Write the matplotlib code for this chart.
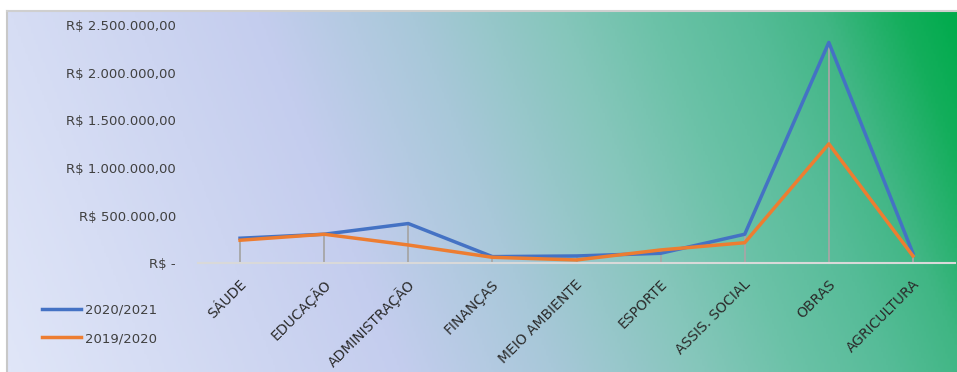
import numpy as np
import matplotlib
matplotlib.use("Agg")
import matplotlib.pyplot as plt
from matplotlib.colors import LinearSegmentedColormap

categorias = ["SÁUDE", "EDUCAÇÃO", "ADMINISTRAÇÃO", "FINANÇAS", "MEIO AMBIENTE",
              "ESPORTE", "ASSIS. SOCIAL", "OBRAS", "AGRICULTURA"]
valores_2020_2021 = [263000, 305000, 417000, 70000, 77000, 105000, 305000, 2317000, 105000]
valores_2019_2020 = [242000, 305000, 192000, 63000, 35000, 140000, 216000, 1253000, 77000]
rotulos_y = ["R$ -", "R$ 500.000,00", "R$ 1.000.000,00", "R$ 1.500.000,00",
             "R$ 2.000.000,00", "R$ 2.500.000,00"]

W, H = 957, 372
fig = plt.figure(figsize=(W / 100, H / 100), dpi=100)
fig.patch.set_facecolor("white")

# fundo em degrade (lavanda -> verde)
bg = fig.add_axes([7 / W, 0, (W - 7) / W, (H - 11) / H], zorder=0)
nx, ny = 400, 160
u = np.linspace(0, 1, nx)[None, :]
v = np.linspace(1, 0, ny)[:, None]
a = 0.15
t = (u + a * v) / (1 + a)
cmap = LinearSegmentedColormap.from_list("fundo", [
    (0.0, "#e0e6f8"), (0.13, "#d6ddf4"), (0.36, "#c4cdee"), (0.5, "#a8c8d9"),
    (0.64, "#84c6ba"), (0.72, "#6cc2a8"), (0.81, "#56bc98"), (0.88, "#40b684"),
    (0.95, "#14ae5c"), (1.0, "#00ab4c")])
bg.imshow(t, cmap=cmap, aspect="auto", extent=[0, 1, 0, 1], vmin=0, vmax=1)
bg.set_xlim(0, 1)
bg.set_ylim(0, 1)
bg.set_xticks([])
bg.set_yticks([])
for lado in ["right", "bottom"]:
    bg.spines[lado].set_visible(False)
bg.spines["top"].set_color("#cfcfcf")
bg.spines["top"].set_linewidth(1.5)
bg.spines["left"].set_color("#c8c8c8")
bg.spines["left"].set_linewidth(1.5)

ax = fig.add_axes([198 / W, 1 - 263.3 / H, (955 - 198) / W, (263.3 - 25) / H], zorder=1)
ax.patch.set_alpha(0)
x = np.arange(len(categorias))
topo = np.maximum(valores_2020_2021, valores_2019_2020)
ax.vlines(x, 0, topo, color="#a6a6a6", lw=1.3, zorder=1)
ax.plot(x, valores_2020_2021, color="#4472c4", lw=2.5, label="2020/2021", zorder=3,
        solid_joinstyle="round")
ax.plot(x, valores_2019_2020, color="#ed7d31", lw=2.5, label="2019/2020", zorder=3,
        solid_joinstyle="round")

ax.set_xlim(-0.5, len(categorias) - 0.5)
ax.set_ylim(0, 2500000)
ax.set_yticks(np.arange(0, 2500001, 500000))
ax.set_yticklabels(rotulos_y)
ax.tick_params(axis="y", length=0, pad=16, labelsize=9.5, labelcolor="#404040")
ax.set_xticks([])
for lado in ["top", "right", "left"]:
    ax.spines[lado].set_visible(False)
ax.spines["bottom"].set_color("#d9d9d9")
ax.spines["bottom"].set_linewidth(1.5)

for i, nome in enumerate(categorias):
    ax.annotate(nome, xy=(i, 0), xycoords=("data", "axes fraction"),
                xytext=(4, -19), textcoords="offset pixels", rotation=45,
                ha="right", va="center", rotation_mode="anchor",
                fontsize=10, color="#2b2b2b")

fig.legend(loc="upper left", bbox_to_anchor=(30 / W, 1 - 292 / H), frameon=False,
           fontsize=9.5, handlelength=3.0, handletextpad=0.25, labelspacing=1.15,
           labelcolor="#404040")

fig.savefig("out.png", dpi=100)
